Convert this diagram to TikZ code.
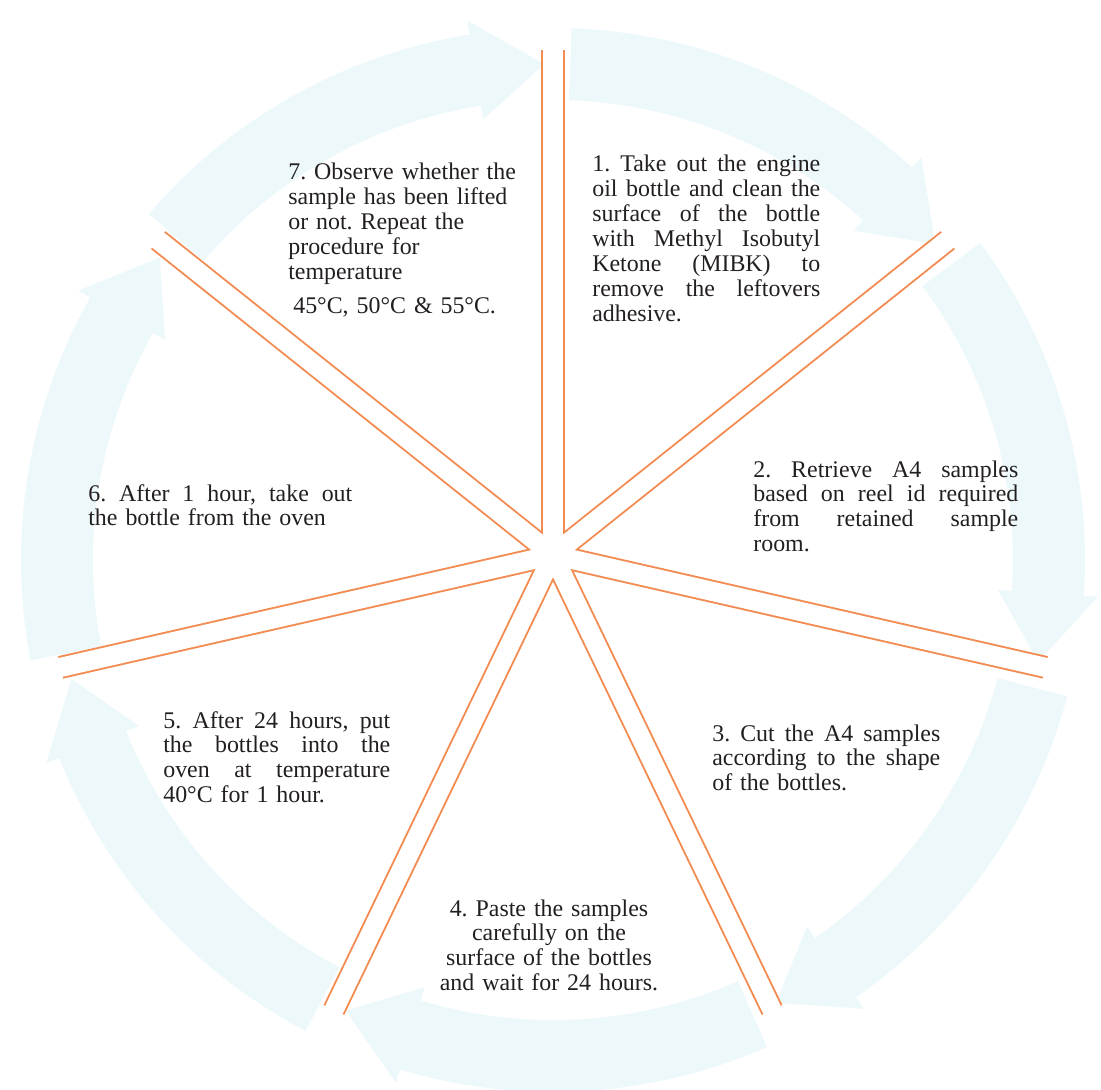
\documentclass[tikz,border=0pt]{standalone}
\usepackage{fontspec}
\setmainfont{Liberation Serif}
\usepackage{xcolor}
\usepackage{tikz}
\usetikzlibrary{positioning}

\definecolor{ringblue}{RGB}{237,248,251}
\definecolor{spokeorange}{RGB}{243,140,82}
\definecolor{inktext}{RGB}{35,31,32}
% one justified line: spaces stretch to the full width
\newcommand{\fillline}[1]{\makebox[\hsize][s]{\spaceskip=0pt\xspaceskip=0pt #1}}
\frenchspacing

\begin{document}
\begin{tikzpicture}[
  x=0.02cm, y=0.02cm,
  stepbox/.style={anchor=base west, inner sep=0pt, align=left,
                  text=inktext, font=\fontsize{13.6pt}{14.2pt}\selectfont},
  band/.style={fill=ringblue, draw=none},
  rim/.style={draw=spokeorange, line width=13.1pt},
  core/.style={draw=white, line width=10.9pt}
]
  \useasboundingbox (-553,-534) rectangle (548,555);
  \coordinate (hub) at (0,0);

  % faint ring of arrows
  \begin{scope}[shift={(0,-5)}]
    \foreach \k in {0,...,6} {
      \pgfmathsetmacro\s{90-\k*360/7-2}
      \pgfmathsetmacro\t{90-(\k+1)*360/7+1}
      \pgfmathsetmacro\h{\t+8}
      \fill[band] (\s:532) arc[start angle=\s, end angle=\h, radius=532]
        -- (\h:546) -- (\t:496) -- (\h:446) -- (\h:460)
        arc[start angle=\h, end angle=\s, radius=460] -- cycle;
    }
  \end{scope}

  % spokes
  \foreach \k in {0,...,6}
    \draw[rim] (hub) -- (90-\k*360/7:505);
  \foreach \k in {0,...,6}
    \draw[core] (hub) -- (90-\k*360/7:507);

  \node[stepbox, text width=4.56cm] (take) at (39,383) {%
    \fillline{1. Take out the engine}\\
    \fillline{oil bottle and clean the}\\
    \fillline{surface of the bottle}\\
    \fillline{with Methyl Isobutyl}\\
    \fillline{Ketone (MIBK) to}\\
    \fillline{remove the leftovers}\\
    adhesive.};
  \node[stepbox, text width=5.3cm] (retrieve) at (200,78) {%
    \fillline{2. Retrieve A4 samples}\\
    \fillline{based on reel id required}\\
    \fillline{from retained sample}\\
    room.};
  \node[stepbox, text width=4.56cm] (cut) at (159,-186) {%
    \fillline{3. Cut the A4 samples}\\
    \fillline{according to the shape}\\
    of the bottles.};
  \node[stepbox, anchor=base, align=center, text width=5.2cm] (paste) at (-4,-361) {%
    4. Paste the samples\\
    carefully on the\\
    surface of the bottles\\
    and wait for 24 hours.};
  \node[stepbox, text width=4.54cm] (oven) at (-390,-173) {%
    \fillline{5. After 24 hours, put}\\
    \fillline{the bottles into the}\\
    \fillline{oven at temperature}\\
    40°C for 1 hour.};
  \node[stepbox, text width=5.28cm] (remove) at (-465,54) {%
    \fillline{6. After 1 hour, take out}\\
    the bottle from the oven};
  \node[stepbox, text width=4.8cm] (observe) at (-265,375) {%
    7. Observe whether the\\
    sample has been lifted\\
    or not. Repeat the\\
    procedure for\\
    temperature\\[0.18cm]
    \hspace*{0.1cm}45°C, 50°C \& 55°C.};
\end{tikzpicture}
\end{document}
